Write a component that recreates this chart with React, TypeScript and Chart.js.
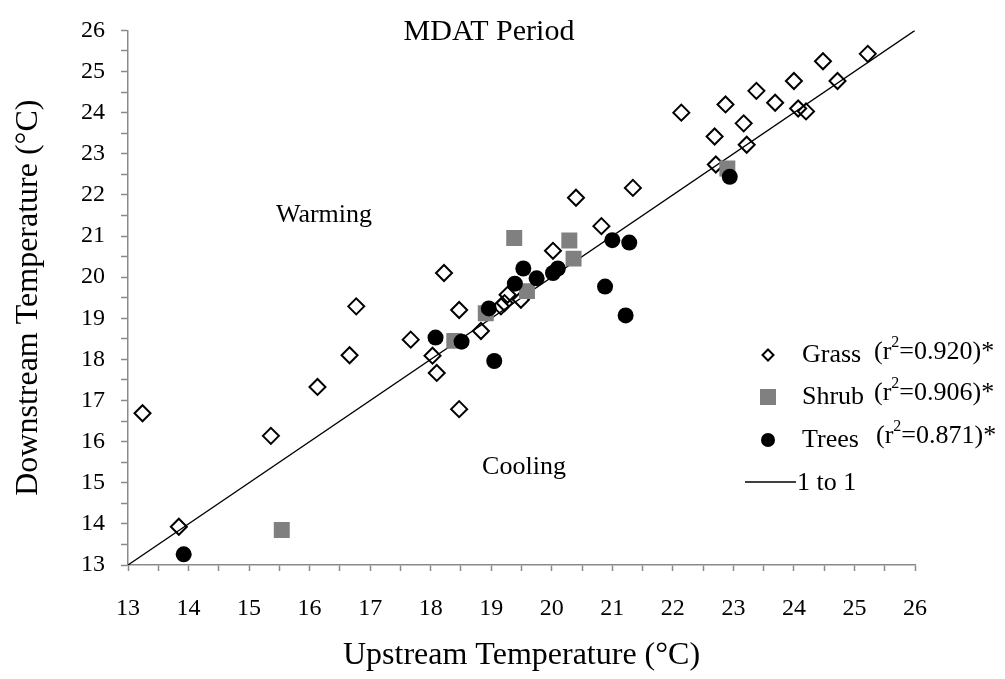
import React, { useEffect, useRef } from "react";
import { Chart, registerables } from "chart.js";

Chart.register(...registerables);

// Upstream (x) and downstream (y) stream temperatures, °C
const grassUp = [13.24, 13.84, 15.36, 16.13, 16.66, 16.77, 17.67, 18.03, 18.1, 18.22, 18.47, 18.47, 18.83, 19.16, 19.22, 19.27, 19.49, 20.02, 20.4, 20.82, 21.34, 22.14, 22.69, 22.71, 22.87, 23.17, 23.22, 23.38, 23.69, 24.0, 24.07, 24.2, 24.48, 24.72, 25.22];
const grassDown = [16.69, 13.93, 16.14, 17.33, 18.1, 19.29, 18.48, 18.09, 17.67, 20.1, 19.2, 16.79, 18.69, 19.29, 19.37, 19.57, 19.45, 20.64, 21.93, 21.24, 22.17, 24.0, 23.42, 22.74, 24.2, 23.74, 23.22, 24.53, 24.24, 24.77, 24.1, 24.03, 25.25, 24.77, 25.43];

const shrubUp = [15.54, 18.39, 18.91, 19.38, 19.59, 20.29, 20.36, 22.9];
const shrubDown = [13.85, 18.45, 19.12, 20.95, 19.66, 20.89, 20.45, 22.64];

const treesUp = [13.92, 18.08, 18.51, 18.96, 19.05, 19.39, 19.53, 19.75, 20.02, 20.1, 20.88, 21.0, 21.22, 21.28, 22.94];
const treesDown = [13.26, 18.53, 18.43, 19.24, 17.96, 19.84, 20.21, 19.97, 20.1, 20.21, 19.77, 20.9, 19.07, 20.84, 22.44];

const oneToOne = [13, 26];

const axisMin = 13;
const axisMax = 26;
const tickLabels = [13, 14, 15, 16, 17, 18, 19, 20, 21, 22, 23, 24, 25, 26];

const legendRows = [
  { name: "Grass", r2: "0.920" },
  { name: "Shrub", r2: "0.906" },
  { name: "Trees", r2: "0.871" },
];

const SERIF = "'Liberation Serif', 'Times New Roman', serif";
const AXIS_GRAY = "#8a8a8a";
const SHRUB_GRAY = "#808080";

const toPoints = (xs: number[], ys: number[]) => xs.map((x, i) => ({ x, y: ys[i] }));

const labelPlugin = {
  id: "annotationsAndLegend",
  afterDraw(chart: any) {
    const ctx = chart.ctx as CanvasRenderingContext2D;
    ctx.save();
    ctx.fillStyle = "#000";
    ctx.textBaseline = "middle";

    ctx.textAlign = "center";
    ctx.font = `30px ${SERIF}`;
    ctx.fillText("MDAT Period", 489, 32);
    ctx.font = `26px ${SERIF}`;
    ctx.fillText("Warming", 324, 215);
    ctx.fillText("Cooling", 524, 467);

    // legend
    ctx.textAlign = "left";
    const rowY = [355, 397, 440];
    const r2Y = [352, 393, 436];
    legendRows.forEach((row, i) => {
      const y = rowY[i];
      const mx = 768;
      ctx.beginPath();
      if (i === 0) {
        const r = 5.5;
        ctx.moveTo(mx - r, y);
        ctx.lineTo(mx, y - r);
        ctx.lineTo(mx + r, y);
        ctx.lineTo(mx, y + r);
        ctx.closePath();
        ctx.lineWidth = 2;
        ctx.strokeStyle = "#000";
        ctx.stroke();
      } else if (i === 1) {
        ctx.fillStyle = SHRUB_GRAY;
        ctx.fillRect(mx - 8, y - 8, 16, 16);
      } else {
        ctx.fillStyle = "#000";
        ctx.arc(mx, y, 7, 0, Math.PI * 2);
        ctx.fill();
      }
      ctx.fillStyle = "#000";
      ctx.font = `26px ${SERIF}`;
      ctx.fillText(row.name, 802, y);

      // (r²=...)*
      let x = i === 2 ? 876 : 874;
      const ry = r2Y[i];
      ctx.font = `26px ${SERIF}`;
      ctx.fillText("(r", x, ry);
      x += ctx.measureText("(r").width;
      ctx.font = `16px ${SERIF}`;
      ctx.fillText("2", x, ry - 9);
      x += ctx.measureText("2").width;
      ctx.font = `26px ${SERIF}`;
      ctx.fillText(`=${row.r2})*`, x, ry);
    });

    ctx.beginPath();
    ctx.strokeStyle = "#000";
    ctx.lineWidth = 1.3;
    ctx.moveTo(745, 482);
    ctx.lineTo(796, 482);
    ctx.stroke();
    ctx.font = `26px ${SERIF}`;
    ctx.fillText("1 to 1", 797, 483);

    ctx.restore();
  },
};

export default function App() {
  const canvasRef = useRef<HTMLCanvasElement | null>(null);

  useEffect(() => {
    document.body.style.margin = "0";
    const canvas = canvasRef.current;
    if (!canvas) return;

    const tickCallback = (v: number | string) => {
      const n = Number(v);
      return tickLabels.includes(n) ? String(n) : "";
    };

    const chart = new Chart(canvas, {
      type: "scatter",
      data: {
        datasets: [
          {
            label: "1 to 1",
            type: "line",
            data: toPoints(oneToOne, oneToOne),
            borderColor: "#000",
            borderWidth: 1.3,
            pointRadius: 0,
            fill: false,
            order: 4,
          },
          {
            label: "Grass",
            data: toPoints(grassUp, grassDown),
            pointStyle: "rectRot",
            pointRadius: 8,
            borderColor: "#000",
            borderWidth: 2,
            backgroundColor: "rgba(255,255,255,0)",
            order: 3,
          },
          {
            label: "Shrub",
            data: toPoints(shrubUp, shrubDown),
            pointStyle: "rect",
            pointRadius: 11.3,
            borderWidth: 0,
            borderColor: SHRUB_GRAY,
            backgroundColor: SHRUB_GRAY,
            order: 2,
          },
          {
            label: "Trees",
            data: toPoints(treesUp, treesDown),
            pointStyle: "circle",
            pointRadius: 8,
            borderWidth: 0,
            borderColor: "#000",
            backgroundColor: "#000",
            order: 1,
          },
        ],
      },
      options: {
        responsive: false,
        animation: false,
        layout: { padding: { top: 20, right: 90, bottom: 0, left: 0 } },
        plugins: {
          legend: { display: false },
          tooltip: { enabled: false },
          title: { display: false },
        },
        scales: {
          x: {
            type: "linear",
            min: axisMin,
            max: axisMax,
            afterFit: (scale: any) => {
              scale.height = 114;
            },
            border: { display: true, color: AXIS_GRAY, width: 1.5 },
            grid: {
              display: true,
              drawOnChartArea: false,
              drawTicks: true,
              tickLength: 6,
              tickColor: AXIS_GRAY,
              tickWidth: 1.5,
            },
            ticks: {
              stepSize: 0.5,
              autoSkip: false,
              maxRotation: 0,
              padding: 23,
              color: "#000",
              font: { family: SERIF, size: 24 },
              callback: tickCallback,
            },
            title: {
              display: true,
              text: "Upstream Temperature (°C)",
              color: "#000",
              font: { family: SERIF, size: 32 },
              padding: { top: 0, bottom: 4 },
            },
          },
          y: {
            type: "linear",
            min: axisMin,
            max: axisMax,
            afterFit: (scale: any) => {
              scale.width = 128;
            },
            border: { display: true, color: AXIS_GRAY, width: 1.5 },
            grid: {
              display: true,
              drawOnChartArea: false,
              drawTicks: true,
              tickLength: 7,
              tickColor: AXIS_GRAY,
              tickWidth: 1.5,
            },
            ticks: {
              stepSize: 0.5,
              autoSkip: false,
              padding: 16,
              color: "#000",
              font: { family: SERIF, size: 24 },
              callback: tickCallback,
            },
            title: {
              display: true,
              text: "Downstream Temperature (°C)",
              color: "#000",
              font: { family: SERIF, size: 32 },
              padding: { top: 9, bottom: 0 },
            },
          },
        },
      },
      plugins: [labelPlugin],
    });

    return () => chart.destroy();
  }, []);

  return (
    <div style={{ position: "absolute", left: 0, top: 0, width: 1005, height: 679, background: "#fff" }}>
      <canvas ref={canvasRef} width={1005} height={679} />
    </div>
  );
}
